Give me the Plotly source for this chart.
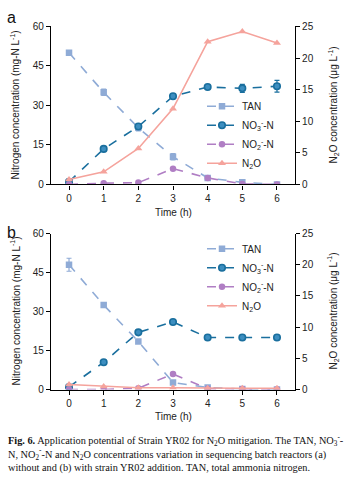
import plotly.graph_objects as go

time_h = [0, 1, 2, 3, 4, 5, 6]

# Panel a (without strain YR02)
a_tan = [50, 35, 21.5, 10.5, 2.5, 0.8, 0]
a_tan_err = [0.6, 1.2, 1.2, 1.2, 0.4, 0.3, 0]
a_no3 = [1, 13.5, 22, 33.5, 37, 36.5, 37.3]
a_no3_err = [0.4, 0.6, 0.6, 0.8, 0.8, 1.5, 2.2]
a_no2 = [0, 0.5, 0.7, 6, 2.5, 0.2, 0]
a_n2o = [0.8, 2.0, 5.7, 12.0, 22.6, 24.2, 22.4]

# Panel b (with strain YR02)
b_tan = [48, 32.5, 18.5, 2.7, 0.8, 0.2, 0]
b_tan_err = [2.5, 0.6, 0.6, 0.4, 0.2, 0.1, 0]
b_no3 = [1, 10.5, 22, 26, 20, 20, 20]
b_no3_err = [0.3, 0.5, 0.6, 0.6, 0.5, 0.5, 0.5]
b_no2 = [0, 0, 0.5, 6, 0.3, 0.2, 0]
b_n2o = [0.8, 0.5, 0.3, 0.3, 0.2, 0.2, 0.2]

names = ["TAN", "NO<sub>3</sub><sup>-</sup>-N", "NO<sub>2</sub><sup>-</sup>-N", "N<sub>2</sub>O"]
c_tan = "#8fabd6"
c_no3 = "#1a6f9e"
c_no2 = "#b07ec4"
c_n2o = "#f5a39c"

left_ticks = [0, 15, 30, 45, 60]
right_ticks = [0, 5, 10, 15, 20, 25]
x_ticks = [0, 1, 2, 3, 4, 5, 6]

fig = go.Figure()

def add_panel(tan, tan_err, no3, no3_err, no2, n2o, xa, ya, ya2, leg):
    fig.add_trace(go.Scatter(x=time_h, y=tan, name=names[0], mode="lines+markers",
        line=dict(color=c_tan, dash="dash", width=1.6),
        marker=dict(symbol="square", size=6.5, color=c_tan),
        error_y=dict(type="data", array=tan_err, color=c_tan, thickness=1.2, width=2.5),
        xaxis=xa, yaxis=ya, legend=leg))
    fig.add_trace(go.Scatter(x=time_h, y=no3, name=names[1], mode="lines+markers",
        line=dict(color=c_no3, dash="dash", width=1.6),
        marker=dict(symbol="circle", size=6.5, color="#3d8ec0", line=dict(color=c_no3, width=1.6)),
        error_y=dict(type="data", array=no3_err, color=c_no3, thickness=1.2, width=2.5),
        xaxis=xa, yaxis=ya, legend=leg))
    fig.add_trace(go.Scatter(x=time_h, y=no2, name=names[2], mode="lines+markers",
        line=dict(color=c_no2, dash="dash", width=1.6),
        marker=dict(symbol="circle", size=6.5, color=c_no2),
        xaxis=xa, yaxis=ya, legend=leg))
    fig.add_trace(go.Scatter(x=time_h, y=n2o, name=names[3], mode="lines+markers",
        line=dict(color=c_n2o, width=1.6),
        marker=dict(symbol="triangle-up", size=7, color=c_n2o),
        xaxis=xa, yaxis=ya2, legend=leg))

add_panel(a_tan, a_tan_err, a_no3, a_no3_err, a_no2, a_n2o, "x", "y", "y2", "legend")
add_panel(b_tan, b_tan_err, b_no3, b_no3_err, b_no2, b_n2o, "x2", "y3", "y4", "legend2")

H = 484.0
PW = 244.0  # plot width in px
def px_x(p):
    return (p - 51) / PW
def px_y(p):
    return 1 - p / H

dom_a = [px_y(183), px_y(21)]
dom_b = [px_y(393.3), px_y(233.3)]

font_fam = "Liberation Sans, Arial, sans-serif"
axis_common = dict(showline=True, linecolor="black", linewidth=1.2, ticks="outside",
                   ticklen=4, tickwidth=1.2, tickcolor="black", showgrid=False, zeroline=False,
                   tickfont=dict(size=10, color="#222", family=font_fam))

xa = dict(axis_common, range=[-0.52, 6.52], tickvals=x_ticks)
ly = dict(axis_common, range=[0, 60], tickvals=left_ticks)
ry = dict(axis_common, range=[0, 25], tickvals=right_ticks, side="right")

fig.update_layout(
    width=348, height=484,
    margin=dict(l=51, r=53, t=0, b=0),
    paper_bgcolor="white", plot_bgcolor="white",
    font=dict(family=font_fam, color="#222"),
    xaxis=dict(xa, anchor="y", domain=[0, 1]),
    yaxis=dict(ly, domain=dom_a, anchor="x"),
    yaxis2=dict(ry, overlaying="y", anchor="x"),
    xaxis2=dict(xa, anchor="y3", domain=[0, 1]),
    yaxis3=dict(ly, domain=dom_b, anchor="x2"),
    yaxis4=dict(ry, overlaying="y3", anchor="x2"),
    legend=dict(x=px_x(202), y=px_y(88), xanchor="left", yanchor="top", bgcolor="rgba(0,0,0,0)",
                font=dict(size=10, color="#222"), tracegroupgap=0, itemwidth=30),
    legend2=dict(x=px_x(202), y=px_y(234), xanchor="left", yanchor="top", bgcolor="rgba(0,0,0,0)",
                 font=dict(size=10, color="#222"), tracegroupgap=0, itemwidth=30),
    showlegend=True,
)

title_font = dict(size=10, color="#222", family=font_fam)
# panel labels
fig.add_annotation(text="a", x=px_x(5), y=px_y(12), xref="paper", yref="paper", showarrow=False,
                   xanchor="left", yanchor="middle", font=dict(size=16, color="#111"))
fig.add_annotation(text="b", x=px_x(5), y=px_y(232), xref="paper", yref="paper", showarrow=False,
                   xanchor="left", yanchor="middle", font=dict(size=16, color="#111"))
# axis titles
for ytop, ybot, xlab in [(21, 183, 212), (233.3, 393.3, 421)]:
    yc = (ytop + ybot) / 2
    fig.add_annotation(text="Nitrogen concentration (mg-N L<sup>-1</sup>)", x=px_x(15), y=px_y(yc),
                       xref="paper", yref="paper", showarrow=False, textangle=-90,
                       xanchor="center", yanchor="middle", font=title_font)
    fig.add_annotation(text="N<sub>2</sub>O concentration (μg L<sup>-1</sup>)", x=px_x(333), y=px_y(yc),
                       xref="paper", yref="paper", showarrow=False, textangle=-90,
                       xanchor="center", yanchor="middle", font=title_font)
    fig.add_annotation(text="Time (h)", x=px_x(173), y=px_y(xlab),
                       xref="paper", yref="paper", showarrow=False,
                       xanchor="center", yanchor="middle", font=title_font)

caption = ("<b>Fig. 6.</b> Application potential of Strain YR02 for N<sub>2</sub>O mitigation. The TAN, NO<sub>3</sub><sup>-</sup>-<br>"
           "N, NO<sub>2</sub><sup>-</sup>-N and N<sub>2</sub>O concentrations variation in sequencing batch reactors (a)<br>"
           "without and (b) with strain YR02 addition. TAN, total ammonia nitrogen.")
fig.add_annotation(text=caption, x=px_x(6), y=px_y(437), xref="paper", yref="paper", showarrow=False,
                   xanchor="left", yanchor="top", align="left",
                   font=dict(size=10.3, color="#111", family="Liberation Serif, Times New Roman, serif"))

fig.write_html("out.html")
